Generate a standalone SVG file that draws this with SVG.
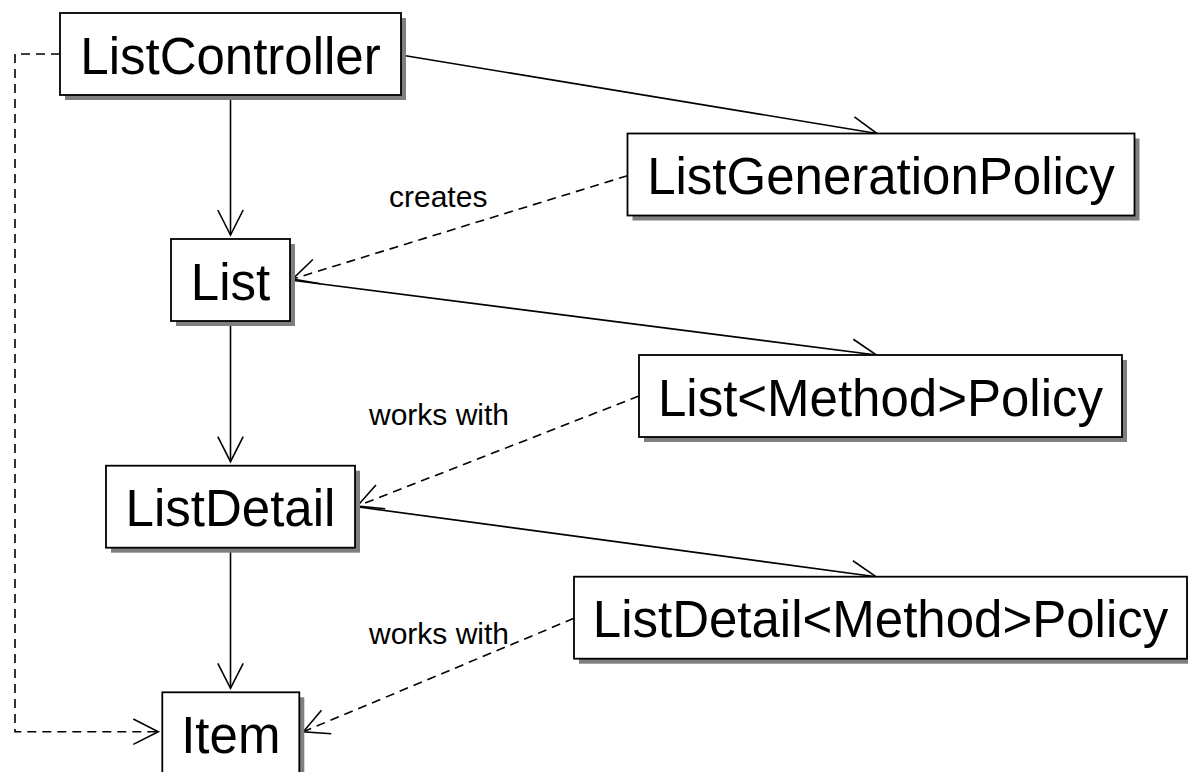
<svg xmlns="http://www.w3.org/2000/svg" width="1188" height="772" viewBox="0 0 1188 772">
<style>
.shadow{fill:#7f7f7f;stroke:none}
.box{fill:#ffffff;stroke:#000000;stroke-width:1.8}
.name{font-family:"Liberation Sans",Arial,Helvetica,sans-serif;font-size:51px;fill:#000000;text-anchor:middle}
.label{font-family:"Liberation Sans",Arial,Helvetica,sans-serif;font-size:30px;fill:#000000}
.solid{fill:none;stroke:#000000;stroke-width:1.6}
.dash{fill:none;stroke:#000000;stroke-width:1.6;stroke-dasharray:9 6}
</style>
<defs>
<marker id="open" markerUnits="userSpaceOnUse" orient="auto" markerWidth="40" markerHeight="40" refX="0" refY="0" viewBox="-30 -20 40 40" overflow="visible">
<path d="M -25 -12.7 L 0 0 L -25 12.7" fill="none" stroke="#000000" stroke-width="1.6" stroke-dasharray="none"/>
</marker>
</defs>
<rect width="1188" height="772" fill="#ffffff"/>
<g id="connectors">
<line class="solid" x1="230.5" y1="95" x2="230.5" y2="235" marker-end="url(#open)"/>
<line class="solid" x1="230.5" y1="320.7" x2="230.5" y2="461.7" marker-end="url(#open)"/>
<line class="solid" x1="230.5" y1="547.3" x2="230.5" y2="688.3" marker-end="url(#open)"/>
<line class="solid" x1="401" y1="55" x2="877" y2="133.5" marker-end="url(#open)"/>
<line class="solid" x1="290" y1="280" x2="876.5" y2="355" marker-end="url(#open)"/>
<line class="solid" x1="355" y1="506.5" x2="876" y2="576.7" marker-end="url(#open)"/>
<line class="dash" x1="627.5" y1="175.7" x2="292.7" y2="279" marker-end="url(#open)"/>
<line class="dash" x1="639" y1="396" x2="357.3" y2="506" marker-end="url(#open)"/>
<line class="dash" x1="574" y1="618.3" x2="303.3" y2="731.7" marker-end="url(#open)"/>
<polyline class="dash" points="60,54 15,54 15,731.7 158.3,731.7" marker-end="url(#open)"/>
<text class="label" x="389" y="206.5">creates</text>
<text class="label" x="369" y="425">works with</text>
<text class="label" x="369" y="644">works with</text>
</g>
<g id="ListController">
<rect class="shadow" x="65" y="18" width="341" height="82"/>
<rect class="box" x="60" y="13" width="341" height="82"/>
<text class="name" x="230.5" y="73.5">ListController</text>
</g>
<g id="ListGenerationPolicy">
<rect class="shadow" x="632.5" y="138.5" width="507" height="82"/>
<rect class="box" x="627.5" y="133.5" width="507" height="82"/>
<text class="name" x="881" y="194.3">ListGenerationPolicy</text>
</g>
<g id="List">
<rect class="shadow" x="176" y="244" width="119" height="82"/>
<rect class="box" x="171" y="239" width="119" height="82"/>
<text class="name" x="230.5" y="299.5">List</text>
</g>
<g id="ListMethodPolicy">
<rect class="shadow" x="644" y="360" width="483" height="82"/>
<rect class="box" x="639" y="355" width="483" height="82"/>
<text class="name" x="880.5" y="415.5">List&lt;Method&gt;Policy</text>
</g>
<g id="ListDetail">
<rect class="shadow" x="111" y="470.7" width="249" height="82"/>
<rect class="box" x="106" y="465.7" width="249" height="82"/>
<text class="name" x="230.5" y="526.2">ListDetail</text>
</g>
<g id="ListDetailMethodPolicy">
<rect class="shadow" x="579" y="581.7" width="613" height="82"/>
<rect class="box" x="574" y="576.7" width="613" height="82"/>
<text class="name" x="880.5" y="637">ListDetail&lt;Method&gt;Policy</text>
</g>
<g id="Item">
<rect class="shadow" x="167.3" y="697.3" width="137" height="82"/>
<rect class="box" x="162.3" y="692.3" width="137" height="82"/>
<text class="name" x="230.8" y="752.5">Item</text>
</g>
</svg>
